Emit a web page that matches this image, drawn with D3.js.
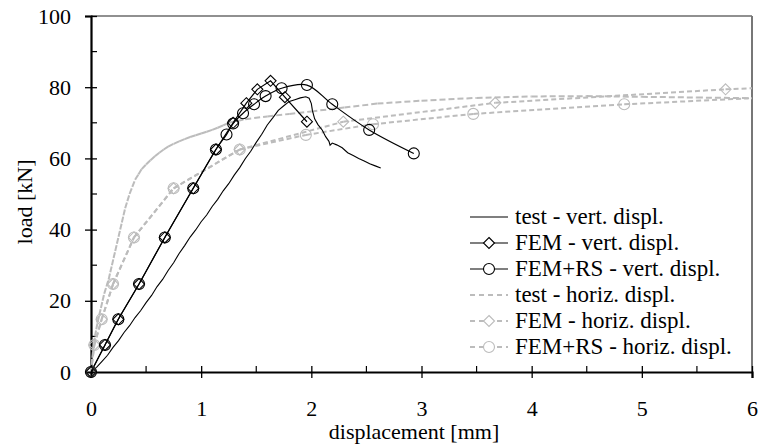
<!DOCTYPE html>
<html><head><meta charset="utf-8">
<script src="https://cdn.jsdelivr.net/npm/d3@7"></script>
<style>body{margin:0;background:#fff}svg{display:block}text{font-family:"Liberation Serif","Times New Roman",serif;fill:#000}</style>
</head><body><svg id="c" width="760" height="445"></svg>
<script>
// ---- data (displacement [mm], load [kN]) ----
const xTicks = [0,1,2,3,4,5,6];
const yTicks = [0,20,40,60,80,100];
const xMinor = [0.5,1.5,2.5,3.5,4.5,5.5];
const yMinor = [10,30,50,70,90];
const seriesNames = ["test - vert. displ.","FEM - vert. displ.","FEM+RS - vert. displ.","test - horiz. displ.","FEM - horiz. displ.","FEM+RS - horiz. displ."];

const testVert = [[0,0],[0.05,1.3],[0.1,3.0],[0.15,4.7],[0.2,6.9],[0.25,8.8],[0.3,11.1],[0.35,13.0],[0.4,15.3],[0.45,17.2],[0.5,19.5],[0.55,21.5],[0.6,24.0],[0.65,26.0],[0.7,28.5],[0.75,30.7],[0.8,33.3],[0.85,35.5],[0.9,37.9],[0.95,39.9],[1.0,42.2],[1.05,44.1],[1.1,46.5],[1.15,48.5],[1.2,50.9],[1.25,52.9],[1.3,55.3],[1.35,57.4],[1.4,59.9],[1.45,62.0],[1.5,64.5],[1.55,66.8],[1.6,69.4],[1.65,71.4],[1.7,73.5],[1.75,74.8],[1.8,76.0],[1.85,76.5],[1.9,77.0],[1.95,77.3],[1.98,76.9],[2.0,75.4],[2.01,73.4],[2.03,71.1],[2.06,69.5],[2.1,67.9],[2.13,66.1],[2.16,64.8],[2.17,63.7],[2.19,64.3],[2.23,63.8],[2.28,63.0],[2.33,61.6],[2.38,60.8],[2.43,60.0],[2.48,59.3],[2.53,58.5],[2.58,57.9],[2.63,57.3]];
const femVert = [[0,0],[0.127,7.6],[0.248,14.8],[0.436,24.7],[0.67,37.8],[0.928,51.6],[1.134,62.5],[1.29,70.0],[1.41,75.5],[1.51,79.4],[1.63,81.8],[1.76,77.2],[1.96,70.3]];
const femRsVert = [[0,0],[0.127,7.6],[0.248,14.8],[0.436,24.7],[0.67,37.8],[0.928,51.6],[1.134,62.5],[1.23,66.7],[1.29,69.8],[1.38,72.7],[1.48,75.2],[1.585,77.5],[1.73,79.7],[1.96,80.6],[2.19,75.2],[2.525,68.0],[2.93,61.4]];
const testHoriz = [[0,0],[0.006,2],[0.012,4],[0.019,6],[0.027,8],[0.036,10],[0.048,12],[0.06,14],[0.075,16],[0.09,18],[0.105,20],[0.12,22],[0.14,24],[0.16,26],[0.175,28],[0.19,30],[0.205,32],[0.22,34],[0.235,36],[0.25,38],[0.265,40],[0.28,42],[0.295,44],[0.31,46],[0.33,48],[0.35,50],[0.375,52],[0.4,54],[0.43,55.5],[0.46,57],[0.5,58.3],[0.54,59.5],[0.58,60.6],[0.62,61.6],[0.66,62.5],[0.7,63.3],[0.75,64.1],[0.8,64.8],[0.85,65.4],[0.9,66.0],[0.95,66.5],[1.0,67.0],[1.05,67.5],[1.1,68.0],[1.15,68.6],[1.2,69.3],[1.25,70.0],[1.4,71.0],[1.6,71.8],[1.8,72.5],[2.0,73.2],[2.3,74.3],[2.6,75.4],[3.0,76.2],[3.5,77.0],[4.0,77.4],[4.5,77.5],[5.0,77.3],[5.5,77.1],[6.0,76.9]];
const femHoriz = [[0,0],[0.03,7.6],[0.097,14.8],[0.2,24.7],[0.39,37.8],[0.75,51.6],[1.35,62.5],[2.29,70.3],[3.67,75.6],[5.76,79.4],[7.6,81.8]];
const femRsHoriz = [[0,0],[0.03,7.6],[0.097,14.8],[0.2,24.7],[0.39,37.8],[0.75,51.6],[1.35,62.5],[1.95,66.6],[2.56,69.6],[3.47,72.5],[4.84,75.2],[6.4,77.5]];

// ---- layout ----
const svg = d3.select("#c");
const X0 = 91, X1 = 752, Y0 = 372, Y1 = 16;
const x = d3.scaleLinear().domain([0,6]).range([X0,X1]);
const y = d3.scaleLinear().domain([0,100]).range([Y0,Y1]);
const GREY = "#bcbcbc";

svg.append("defs").append("clipPath").attr("id","clip")
  .append("rect").attr("x",X0-12).attr("y",Y1-8).attr("width",X1-X0+12).attr("height",Y0-Y1+20);

// frame
svg.append("line").attr("x1",X0).attr("x2",X1).attr("y1",Y1).attr("y2",Y1).attr("stroke","#222").attr("stroke-width",1.2);
svg.append("line").attr("x1",X1).attr("x2",X1).attr("y1",Y1).attr("y2",Y0).attr("stroke","#777").attr("stroke-width",2);

// axes
const gy = svg.append("g").attr("transform",`translate(${X0},0)`)
  .call(d3.axisLeft(y).tickValues(yTicks).tickSize(6).tickPadding(14).tickFormat(d3.format("d")));
gy.selectAll(".tick line").attr("x2",-6).attr("x1",6).attr("stroke","#000").attr("stroke-width",1.3);
gy.select(".domain").attr("stroke","#000").attr("stroke-width",2.2);
gy.selectAll("text").attr("font-size",22).attr("font-family","Liberation Serif").attr("fill","#000");
svg.append("g").selectAll("line").data(yMinor).join("line")
  .attr("x1",X0).attr("x2",X0+6).attr("y1",d=>y(d)).attr("y2",d=>y(d)).attr("stroke","#000").attr("stroke-width",1.2);

const gx = svg.append("g").attr("transform",`translate(0,${Y0})`)
  .call(d3.axisBottom(x).tickValues(xTicks).tickSize(6).tickPadding(22).tickFormat(d3.format("d")));
gx.selectAll(".tick line").attr("y1",-6).attr("y2",6).attr("stroke","#000").attr("stroke-width",1.3);
gx.select(".domain").attr("stroke","#000").attr("stroke-width",2.2);
gx.selectAll("text").attr("font-size",22).attr("font-family","Liberation Serif").attr("fill","#000");
svg.append("g").selectAll("line").data(xMinor).join("line")
  .attr("x1",d=>x(d)).attr("x2",d=>x(d)).attr("y1",Y0).attr("y2",Y0-6).attr("stroke","#000").attr("stroke-width",1.2);

// titles
svg.append("text").attr("x",414).attr("y",439).attr("text-anchor","middle").attr("font-size",22).text("displacement [mm]");
svg.append("text").attr("transform","translate(32,202) rotate(-90)").attr("text-anchor","middle").attr("font-size",22).text("load [kN]");

const plot = svg.append("g").attr("clip-path","url(#clip)");

// dashed series: Excel-like, dash pattern restarts on each segment
function dashedSeries(data, color, width, dash){
  const segs = d3.pairs(data);
  plot.append("g").selectAll("line").data(segs).join("line")
    .attr("x1",d=>x(d[0][0])).attr("y1",d=>y(d[0][1]))
    .attr("x2",d=>x(d[1][0])).attr("y2",d=>y(d[1][1]))
    .attr("stroke",color).attr("stroke-width",width).attr("stroke-dasharray",dash).attr("fill","none");
}
function diamond(g, data, color, s){
  g.selectAll(null).data(data.filter(d=>d[0]<=6)).join("path")
    .attr("d",d=>{const cx=x(d[0]),cy=y(d[1]);return `M${cx},${cy-s}L${cx+s},${cy}L${cx},${cy+s}L${cx-s},${cy}Z`;})
    .attr("fill","none").attr("stroke",color).attr("stroke-width",1.1);
}
function circles(g, data, color, r){
  g.selectAll(null).data(data.filter(d=>d[0]<=6)).join("circle")
    .attr("cx",d=>x(d[0])).attr("cy",d=>y(d[1])).attr("r",r)
    .attr("fill","none").attr("stroke",color).attr("stroke-width",1.1);
}

// horizontal displacement series (grey)
dashedSeries(testHoriz, GREY, 2, "6,3");
dashedSeries(femHoriz, GREY, 2, "5,3");
dashedSeries(femRsHoriz, GREY, 2, "5,3");
const mk = svg.append("g");
diamond(mk, femHoriz, GREY, 5.5);
circles(mk, femRsHoriz, GREY, 5.5);

// vertical displacement series (black)
const lineLin = d3.line().x(d=>x(d[0])).y(d=>y(d[1]));
const lineSmooth = d3.line().x(d=>x(d[0])).y(d=>y(d[1])).curve(d3.curveCatmullRom.alpha(0.5));
plot.append("path").attr("d",lineLin(testVert)).attr("fill","none").attr("stroke","#000").attr("stroke-width",1.1);
plot.append("path").attr("d",lineLin(femVert)).attr("fill","none").attr("stroke","#000").attr("stroke-width",1.2);
plot.append("path").attr("d",lineSmooth(femRsVert)).attr("fill","none").attr("stroke","#000").attr("stroke-width",1.2);
diamond(mk, femVert, "#000", 5.5);
circles(mk, femRsVert, "#000", 5.5);

// legend
const legY = [217,243,269,295,321,347];
const lg = svg.append("g");
const styles = [
  {c:"#000",w:1.1,dash:null,m:null},
  {c:"#000",w:1.2,dash:null,m:"d"},
  {c:"#000",w:1.2,dash:null,m:"c"},
  {c:GREY,w:2,dash:"5,4",m:null},
  {c:GREY,w:2,dash:"5,4",m:"d"},
  {c:GREY,w:2,dash:"5,4",m:"c"}
];
seriesNames.forEach((n,i)=>{
  const yy = legY[i], st = styles[i];
  lg.append("line").attr("x1",470).attr("x2",508).attr("y1",yy).attr("y2",yy)
    .attr("stroke",st.c).attr("stroke-width",st.w).attr("stroke-dasharray",st.dash);
  if(st.m==="d") lg.append("path").attr("d",`M489,${yy-5.5}L494.5,${yy}L489,${yy+5.5}L483.5,${yy}Z`).attr("fill","#fff").attr("stroke",st.c).attr("stroke-width",1.1);
  if(st.m==="c") lg.append("circle").attr("cx",489).attr("cy",yy).attr("r",5.5).attr("fill","#fff").attr("stroke",st.c).attr("stroke-width",1.1);
  lg.append("text").attr("x",515).attr("y",yy+7).attr("font-size",23).text(n);
});
</script></body></html>
